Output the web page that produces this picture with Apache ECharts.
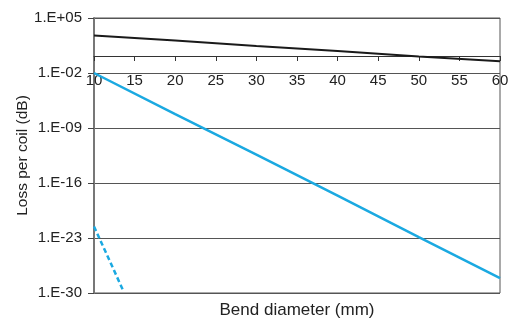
<!DOCTYPE html>
<html>
<head>
<meta charset="utf-8">
<script src="https://cdn.jsdelivr.net/npm/echarts@6/dist/echarts.min.js"></script>
<style>html,body{margin:0;padding:0;background:#fff;}#c{width:508px;height:320px;}</style>
</head>
<body>
<div id="c"></div>
<script>
// Data
var xTickLabels = ['10','15','20','25','30','35','40','45','50','55','60'];
var yTickExponents = [-30, -23, -16, -9, -2, 5];
var yTickLabels = ['1.E-30','1.E-23','1.E-16','1.E-09','1.E-02','1.E+05'];
var blackX = [10, 20, 30, 40, 50, 60];
var blackY = [600, 140, 28, 6.5, 1.3, 0.32];
var blueX = [10, 20, 30, 40, 50, 60];
var blueY = [1e-2, 6e-8, 4e-13, 2.5e-18, 1.3e-23, 8e-29];
var dashX = [10, 13.6];
var dashY = [3e-22, 2e-30];

function pairs(xs, ys){ return xs.map(function(x,i){ return [x, ys[i]]; }); }
var font = "'Liberation Sans', Arial, sans-serif";
var chart = echarts.init(document.getElementById('c'), null, {renderer:'canvas'});
chart.setOption({
  animation: false,
  backgroundColor: '#fff',
  grid: {left: 94, right: 8, top: 18, bottom: 27, show: true, borderColor: '#555', borderWidth: 1,
    backgroundColor: 'transparent', outerBoundsMode: 'none', containLabel: false},
  xAxis: [{
    type: 'value', min: 10, max: 60, interval: 5, position: 'top', offset: -38,
    axisLine: {show: true, onZero: false, lineStyle: {color: '#333', width: 1}},
    axisTick: {show: true, inside: true, length: 5, lineStyle: {color: '#333'}},
    axisLabel: {show: true, inside: true, margin: 17, fontSize: 15, color: '#222', fontFamily: font,
      formatter: function(v){ var s = xTickLabels[Math.round((v-10)/5)]; return s == null ? '' : s; }},
    splitLine: {show: false}
  }, {
    type: 'value', min: 10, max: 60, position: 'bottom',
    axisLine: {show: false, onZero: false}, axisTick: {show: false}, axisLabel: {show: false}, splitLine: {show: false},
    name: 'Bend diameter (mm)', nameLocation: 'middle', nameGap: 9,
    nameTextStyle: {fontSize: 17, color: '#222', fontFamily: font}
  }],
  yAxis: [{
    // data scale (log); hidden, it only maps the series
    type: 'log', logBase: 10, min: 1e-30, max: 1e5, show: false,
    splitLine: {show: false}
  }, {
    // decade axis carrying line, ticks, labels and grid lines
    type: 'value', min: yTickExponents[0], max: yTickExponents[yTickExponents.length - 1],
    interval: yTickExponents[1] - yTickExponents[0], position: 'left',
    axisLine: {show: true, onZero: false, lineStyle: {color: '#777', width: 2}},
    axisTick: {show: true, length: 6, lineStyle: {color: '#444'}},
    axisLabel: {margin: 12, fontSize: 15, color: '#222', fontFamily: font,
      formatter: function(v){ var i = yTickExponents.indexOf(Math.round(v)); return i < 0 ? '' : yTickLabels[i]; }},
    splitLine: {show: true, lineStyle: {color: '#555', width: 1}},
    name: 'Loss per coil (dB)', nameLocation: 'middle', nameGap: 63, nameRotate: 90, nameMoveOverlap: false,
    nameTextStyle: {fontSize: 15.5, color: '#222', fontFamily: font}
  }],
  series: [{
    type: 'line', xAxisIndex: 0, yAxisIndex: 0, data: pairs(blackX, blackY), symbol: 'none',
    lineStyle: {color: '#1a1a1a', width: 2}
  }, {
    type: 'line', xAxisIndex: 0, yAxisIndex: 0, data: pairs(blueX, blueY), symbol: 'none',
    lineStyle: {color: '#1ba9e1', width: 2.5}
  }, {
    type: 'line', xAxisIndex: 0, yAxisIndex: 0, data: pairs(dashX, dashY), symbol: 'none',
    lineStyle: {color: '#1ba9e1', width: 2.5, type: [5, 3]}
  }]
});
</script>
</body>
</html>
